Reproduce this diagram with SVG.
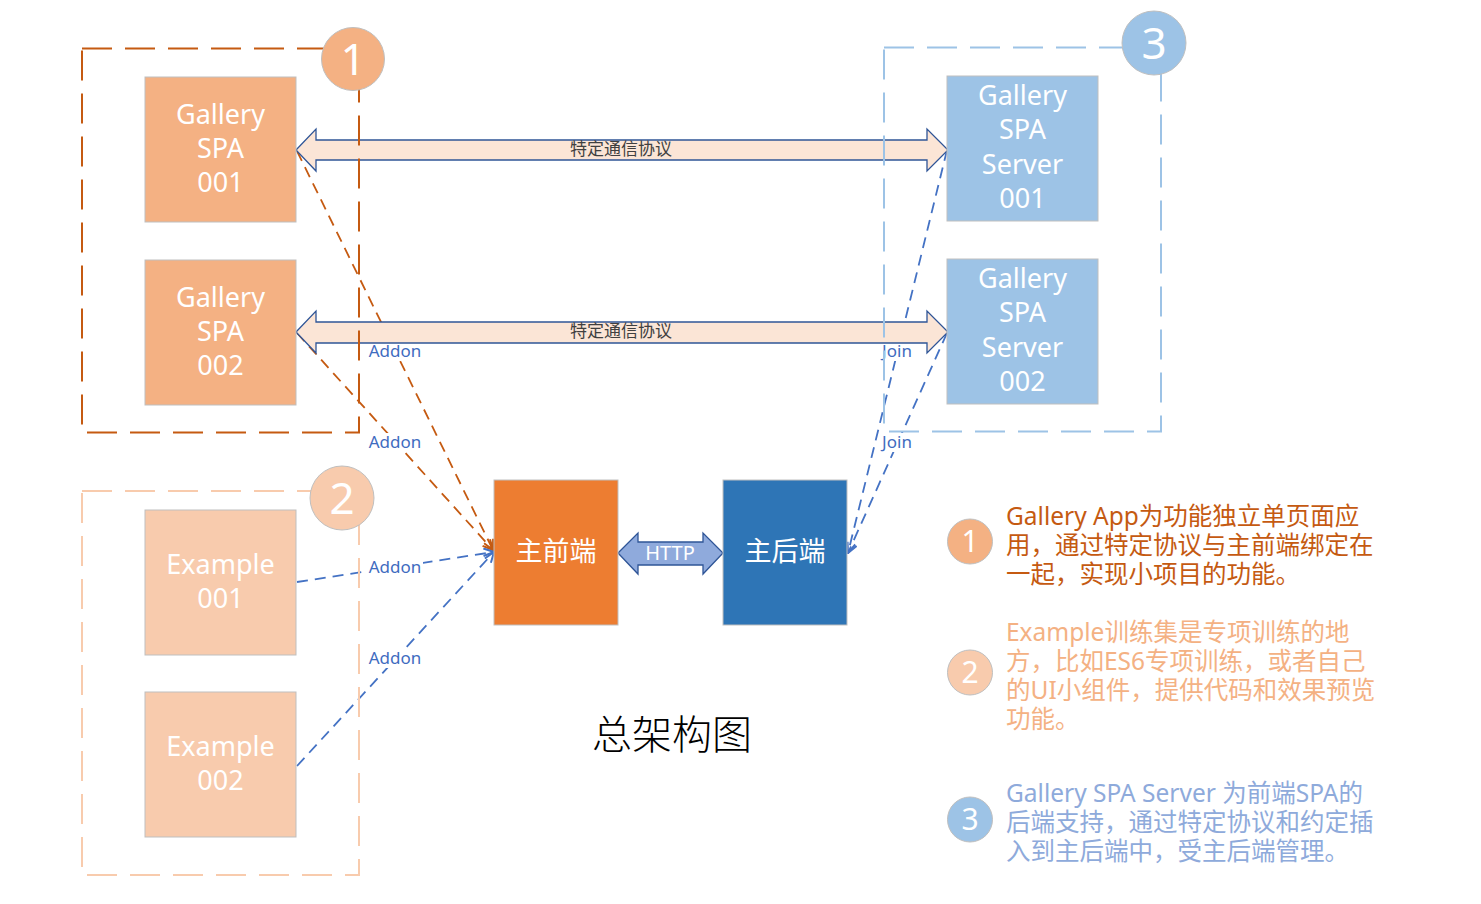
<svg xmlns="http://www.w3.org/2000/svg" width="1481" height="904" viewBox="0 0 1481 904">
<style>
.node{stroke:#bfbfbf;stroke-width:1}
.nt{font-family:"Noto Sans","Noto Sans CJK SC",sans-serif;font-size:27px;fill:#fff;text-anchor:middle}
.cjk{font-family:"Noto Sans CJK SC",sans-serif;fill:#fff;text-anchor:middle}
.frame{fill:none;stroke-width:2;stroke-dasharray:30 13}
.circ{stroke:#bfbfbf;stroke-width:1}
.cn{font-family:"Noto Sans",sans-serif;fill:#fff;text-anchor:middle}
.conn{fill:none;stroke-width:1.8;stroke-dasharray:11 7}
.lbl{font-family:"Noto Sans",sans-serif;font-size:17px;fill:#3f6cbf;text-anchor:middle}
.lbg{fill:#fff}
.dbl{fill:#fbe5d6;stroke:#2f5597;stroke-width:1.3}
.proto{font-family:"Noto Sans CJK SC",sans-serif;font-size:17px;fill:#404040;text-anchor:middle}
.leg{font-family:"Noto Sans","Noto Sans CJK SC",sans-serif;font-size:24.5px}
</style>
<defs>
<marker id="ao" viewBox="0 0 12 12" refX="11" refY="6" markerWidth="12" markerHeight="12" markerUnits="userSpaceOnUse" orient="auto"><path d="M1,1 L11,6 L1,11" fill="none" stroke="#c55a11" stroke-width="2"/></marker>
<marker id="ab" viewBox="0 0 12 12" refX="11" refY="6" markerWidth="12" markerHeight="12" markerUnits="userSpaceOnUse" orient="auto"><path d="M1,1 L11,6 L1,11" fill="none" stroke="#4472c4" stroke-width="2"/></marker>
</defs>
<rect width="1481" height="904" fill="#fff"/>

<g id="connectors">
<line class="conn" x1="297" y1="151" x2="493" y2="550" stroke="#c55a11" marker-end="url(#ao)"/>
<line class="conn" x1="297" y1="333" x2="493" y2="550" stroke="#c55a11" marker-end="url(#ao)"/>
<line class="conn" x1="297" y1="582" x2="494" y2="552" stroke="#4472c4" marker-end="url(#ab)"/>
<line class="conn" x1="297" y1="766" x2="494" y2="552" stroke="#4472c4" marker-end="url(#ab)"/>
<line class="conn" x1="947" y1="150" x2="848" y2="553" stroke="#4472c4" marker-end="url(#ab)"/>
<line class="conn" x1="947" y1="333" x2="848" y2="553" stroke="#4472c4" marker-end="url(#ab)"/>
<rect class="lbg" x="367" y="342" width="56" height="19"/><text class="lbl" x="395" y="357">Addon</text>
<rect class="lbg" x="367" y="433" width="56" height="19"/><text class="lbl" x="395" y="448">Addon</text>
<rect class="lbg" x="367" y="558" width="56" height="19"/><text class="lbl" x="395" y="573">Addon</text>
<rect class="lbg" x="367" y="649" width="56" height="19"/><text class="lbl" x="395" y="664">Addon</text>
<rect class="lbg" x="879" y="342" width="36" height="19"/><text class="lbl" x="897" y="357">Join</text>
<rect class="lbg" x="879" y="433" width="36" height="19"/><text class="lbl" x="897" y="448">Join</text>
<polygon class="dbl" points="296,150 316,129 316,140 927,140 927,129 948,150 927,171 927,160 316,160 316,171"/>
<text class="proto" x="621" y="155">特定通信协议</text>
<polygon class="dbl" points="296,332 316,311 316,322 927,322 927,311 948,332 927,353 927,343 316,343 316,353"/>
<text class="proto" x="621" y="337">特定通信协议</text>
<polygon points="618,553 638,533 638,542 703,542 703,533 723,553 703,574 703,565 638,565 638,574" fill="#8faadc" stroke="#2f5597" stroke-width="1.3"/>
<text class="cn" x="670" y="560" font-size="20">HTTP</text>
</g>

<g id="group1">
<rect class="frame" x="82" y="48.5" width="277" height="384" stroke="#c55a11"/>
<circle class="circ" cx="353" cy="59" r="31.5" fill="#f4b183"/>
<text class="cn" x="353" y="75" font-size="44">1</text>
</g>
<g id="group2">
<rect class="frame" x="82" y="491" width="277" height="384" stroke="#f8cbad"/>
<circle class="circ" cx="342" cy="498" r="32" fill="#f8cbad"/>
<text class="cn" x="342" y="514" font-size="44">2</text>
</g>
<g id="group3">
<rect class="frame" x="884" y="47.5" width="277" height="384" stroke="#9dc3e6"/>
<circle class="circ" cx="1154" cy="43" r="32" fill="#9dc3e6"/>
<text class="cn" x="1154" y="59" font-size="44">3</text>
</g>

<g id="gallery001">
<rect class="node" x="145" y="77" width="151" height="145" fill="#f4b183"/>
<text class="nt" x="220.5" y="123.5">Gallery</text><text class="nt" x="220.5" y="158">SPA</text><text class="nt" x="220.5" y="192">001</text>
</g>
<g id="gallery002">
<rect class="node" x="145" y="260" width="151" height="145" fill="#f4b183"/>
<text class="nt" x="220.5" y="306.5">Gallery</text><text class="nt" x="220.5" y="341">SPA</text><text class="nt" x="220.5" y="375">002</text>
</g>
<g id="example001">
<rect class="node" x="145" y="510" width="151" height="145" fill="#f8cbad"/>
<text class="nt" x="220.5" y="574">Example</text><text class="nt" x="220.5" y="607.5">001</text>
</g>
<g id="example002">
<rect class="node" x="145" y="692" width="151" height="145" fill="#f8cbad"/>
<text class="nt" x="220.5" y="756">Example</text><text class="nt" x="220.5" y="790">002</text>
</g>
<g id="server001">
<rect class="node" x="947" y="76" width="151" height="145" fill="#9dc3e6"/>
<text class="nt" x="1022.5" y="105">Gallery</text><text class="nt" x="1022.5" y="139">SPA</text><text class="nt" x="1022.5" y="174">Server</text><text class="nt" x="1022.5" y="207.5">001</text>
</g>
<g id="server002">
<rect class="node" x="947" y="259" width="151" height="145" fill="#9dc3e6"/>
<text class="nt" x="1022.5" y="288">Gallery</text><text class="nt" x="1022.5" y="322">SPA</text><text class="nt" x="1022.5" y="357">Server</text><text class="nt" x="1022.5" y="390.5">002</text>
</g>
<g id="frontend">
<rect class="node" x="494" y="480" width="124" height="145" fill="#ed7d31"/>
<text class="cjk" x="556" y="561" font-size="27">主前端</text>
</g>
<g id="backend">
<rect class="node" x="723" y="480" width="124" height="145" fill="#2e75b6"/>
<text class="cjk" x="785" y="561" font-size="27">主后端</text>
</g>

<g id="title">
<text x="672" y="749" font-family="Noto Sans CJK SC, sans-serif" font-weight="300" font-size="40" fill="#000" text-anchor="middle">总架构图</text>
</g>

<g id="legend1">
<circle class="circ" cx="970" cy="541.5" r="22.5" fill="#f4b183"/>
<text class="cn" x="970" y="552" font-size="30">1</text>
<text class="leg" fill="#c55a11"><tspan x="1006" y="525">Gallery App为功能独立单页面应</tspan><tspan x="1006" y="554">用，通过特定协议与主前端绑定在</tspan><tspan x="1006" y="583">一起，实现小项目的功能。</tspan></text>
</g>
<g id="legend2">
<circle class="circ" cx="970" cy="672.5" r="22.5" fill="#f8cbad"/>
<text class="cn" x="970" y="683" font-size="30">2</text>
<text class="leg" fill="#f4b183"><tspan x="1006" y="641">Example训练集是专项训练的地</tspan><tspan x="1006" y="670">方，比如ES6专项训练，或者自己</tspan><tspan x="1006" y="699">的UI小组件，提供代码和效果预览</tspan><tspan x="1006" y="728">功能。</tspan></text>
</g>
<g id="legend3">
<circle class="circ" cx="970" cy="819.5" r="22.5" fill="#9dc3e6"/>
<text class="cn" x="970" y="830" font-size="30">3</text>
<text class="leg" fill="#8eaadb"><tspan x="1006" y="802">Gallery SPA Server 为前端SPA的</tspan><tspan x="1006" y="831">后端支持，通过特定协议和约定插</tspan><tspan x="1006" y="860">入到主后端中，受主后端管理。</tspan></text>
</g>
</svg>
